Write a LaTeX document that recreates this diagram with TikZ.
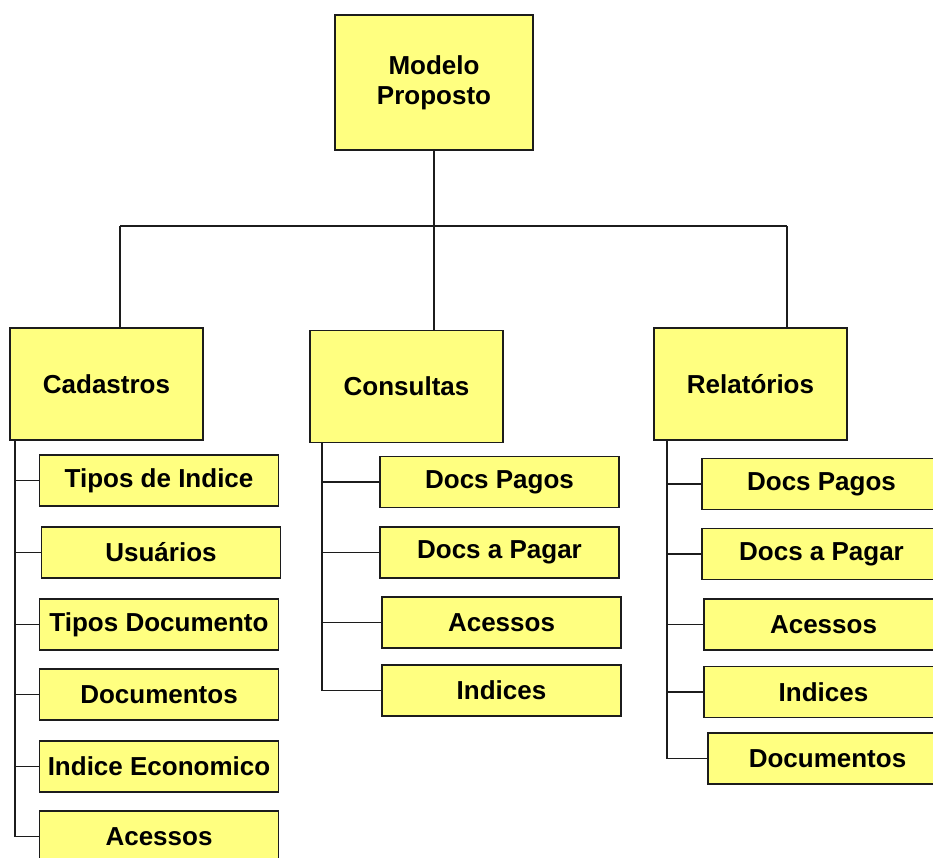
\documentclass[tikz,border=0pt]{standalone}
\usepackage{fontspec}
\setmainfont{Liberation Sans}
\usepackage{tikz}
\definecolor{boxfill}{RGB}{255,255,128}
\definecolor{boxline}{RGB}{28,28,28}

\begin{document}
\begin{tikzpicture}[x=1pt, y=-1pt,
    box/.style={draw=boxline, line width=1.6pt, fill=boxfill, inner sep=0pt,
        align=center, font=\bfseries\fontsize{26}{30}\selectfont},
    topbox/.style={box, minimum width=198pt, minimum height=135pt},
    mainbox/.style={box, minimum width=193pt, minimum height=112pt},
    itembox/.style={box, minimum width=239pt, minimum height=51pt},
    link/.style={draw=boxline, line width=1.6pt}]
    \useasboundingbox (0,0) rectangle (933,857);
    \clip (0,0) rectangle (933,857);
    \fill[white] (0,0) rectangle (933,857);

    % top
    \node[topbox] (modelo) at (434,82.5) {Modelo\\Proposto};

    % second level
    \node[mainbox] (cad) at (106.5,384) {Cadastros};
    \node[mainbox] (cons) at (406.5,386.5) {Consultas};
    \node[mainbox] (rel) at (750.5,384) {Relatórios};

    % Cadastros
    \node[itembox] (cad1) at (159,480.5) {Tipos de Indice};
    \node[itembox] (cad2) at (161,552.5) {Usuários};
    \node[itembox] (cad3) at (159,624.5) {Tipos Documento};
    \node[itembox] (cad4) at (159,694.5) {Documentos};
    \node[itembox] (cad5) at (159,766.5) {Indice Economico};
    \node[itembox] (cad6) at (159,836.5) {Acessos};

    % Consultas
    \node[itembox] (cons1) at (499.5,482) {Docs Pagos};
    \node[itembox] (cons2) at (499.5,552.5) {Docs a Pagar};
    \node[itembox] (cons3) at (501.5,622.5) {Acessos};
    \node[itembox] (cons4) at (501.5,690.5) {Indices};

    % Relatorios
    \node[itembox] (rel1) at (821.5,484) {Docs Pagos};
    \node[itembox] (rel2) at (821.5,554) {Docs a Pagar};
    \node[itembox] (rel3) at (823.5,624.5) {Acessos};
    \node[itembox] (rel4) at (823.5,692) {Indices};
    \node[itembox] (rel5) at (827.5,758.5) {Documentos};

    % tree lines
    \coordinate (busL) at (120,226);
    \coordinate (busR) at (787,226);
    \draw[link] (busL) -- (busR);
    \draw[link] (modelo.south) -- (modelo.south |- cons.north);
    \draw[link] (busL) -- (busL |- cad.north);
    \draw[link] (busR) -- (busR |- rel.north);

    \coordinate (cadT) at ([xshift=6pt]cad.south west);
    \coordinate (consT) at ([xshift=13pt]cons.south west);
    \coordinate (relT) at ([xshift=14pt]rel.south west);
    \draw[link] (cadT) |- (cad6.west);
    \draw[link] (consT) |- (cons4.west);
    \draw[link] (relT) |- (rel5.west);
    \foreach \i in {1,...,5}
        \draw[link] (cadT |- cad\i.west) -- (cad\i.west);
    \foreach \i in {1,...,3}
        \draw[link] (consT |- cons\i.west) -- (cons\i.west);
    \foreach \i in {1,...,4}
        \draw[link] (relT |- rel\i.west) -- (rel\i.west);
\end{tikzpicture}
\end{document}
